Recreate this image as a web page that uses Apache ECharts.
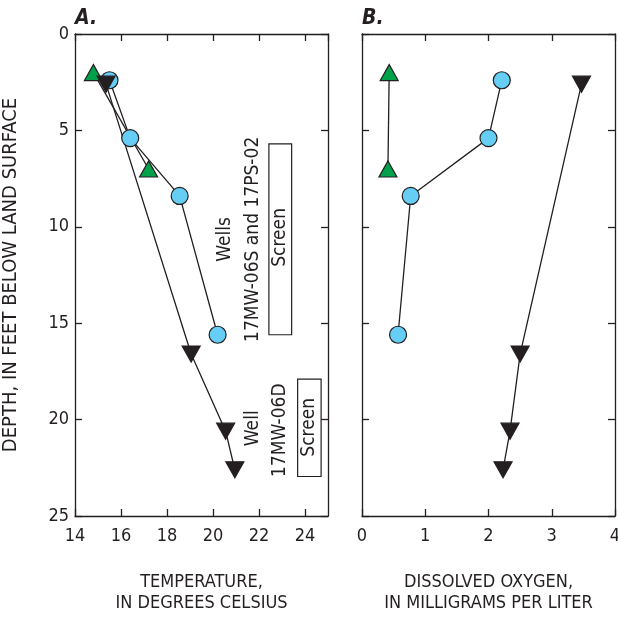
<!DOCTYPE html>
<html>
<head>
<meta charset="utf-8">
<script src="https://cdn.jsdelivr.net/npm/echarts@6/dist/echarts.min.js"></script>
<style>
  html, body { margin: 0; padding: 0; background: #fff; }
  #chart { width: 618px; height: 620px; }
</style>
</head>
<body>
<div id="chart"></div>
<script>
// depth values, in feet below land surface
const depth17PS = [2.0, 7.0];
const depth06S = [2.4, 5.4, 8.4, 15.6];
const depth06D = [2.6, 16.6, 20.6, 22.6];

// panel A: temperature, degrees Celsius
const temp17PS = [14.8, 17.2];
const temp06S = [15.5, 16.4, 18.55, 20.2];
const temp06D = [15.35, 19.05, 20.55, 20.95];

// panel B: dissolved oxygen, mg/L
const do17PS = [0.43, 0.41];
const do06S = [2.21, 2.0, 0.77, 0.57];
const do06D = [3.47, 2.5, 2.34, 2.23];

// screened intervals drawn in panel A: [x0, depthTop, x1, depthBottom]
const screenBoxes = [
    [22.43, 5.7, 23.42, 15.6],
    [23.68, 17.9, 24.7, 22.95],
];
// well annotations in panel A: [x, depth, text]
const wellLabels = [
    [20.52, 10.65, 'Wells'],
    [21.74, 10.65, '17MW-06S and 17PS-02'],
    [22.93, 10.55, 'Screen'],
    [21.74, 20.45, 'Well'],
    [22.9, 20.55, '17MW-06D'],
    [24.19, 20.4, 'Screen'],
];

const FONT = "'Liberation Sans Narrow', 'DejaVu Sans Condensed', sans-serif";
const INK = '#231f20';
const BLUE = '#66cdf4';
const GREEN = '#00a14b';

const zip = (xs, ys) => xs.map((x, i) => [x, ys[i]]);

const chart = echarts.init(document.getElementById('chart'));

const frameAxis = (extra) => Object.assign({
    type: 'value',
    axisLine: { show: true, onZero: false, lineStyle: { color: INK, width: 1.3 } },
    axisTick: { show: true, inside: true, length: 7, lineStyle: { color: INK, width: 1.3 } },
    axisLabel: { show: false },
    splitLine: { show: false },
}, extra);

const tickLabel = { show: true, color: INK, fontFamily: FONT, fontSize: 18, margin: 11 };
const axisName = { color: INK, fontFamily: FONT, fontSize: 18, lineHeight: 21 };

const lineSeries = (name, xi, yi, data, symbol, color, size, rotate) => ({
    name,
    type: 'line',
    xAxisIndex: xi,
    yAxisIndex: yi,
    data,
    symbol,
    symbolSize: size,
    symbolRotate: rotate || 0,
    showSymbol: true,
    lineStyle: { color: INK, width: 1.3 },
    itemStyle: { color, borderColor: INK, borderWidth: 1.2 },
    z: 3,
    animation: false,
});

chart.setOption({
    animation: false,
    title: [
        { text: 'A.', left: 70, top: 3, textStyle: { fontFamily: FONT, fontSize: 21, fontWeight: 'bold', fontStyle: 'italic', color: INK } },
        { text: 'B.', left: 357, top: 3, textStyle: { fontFamily: FONT, fontSize: 21, fontWeight: 'bold', fontStyle: 'italic', color: INK } },
    ],
    grid: [
        { left: 75, top: 34, width: 253, height: 482, outerBoundsMode: 'none' },
        { left: 362, top: 34, width: 253, height: 482, outerBoundsMode: 'none' },
    ],
    xAxis: [
        frameAxis({
            gridIndex: 0, position: 'bottom', min: 14, max: 25, interval: 2,
            axisLabel: Object.assign({}, tickLabel, { showMaxLabel: false }),
            name: 'TEMPERATURE,\nIN DEGREES CELSIUS', nameLocation: 'middle', nameGap: 56,
            nameTextStyle: axisName,
        }),
        frameAxis({ gridIndex: 0, position: 'top', min: 14, max: 25, interval: 2 }),
        frameAxis({
            gridIndex: 1, position: 'bottom', min: 0, max: 4, interval: 1,
            axisLabel: tickLabel,
            name: 'DISSOLVED OXYGEN,\nIN MILLIGRAMS PER LITER', nameLocation: 'middle', nameGap: 56,
            nameTextStyle: axisName,
        }),
        frameAxis({ gridIndex: 1, position: 'top', min: 0, max: 4, interval: 1 }),
    ],
    yAxis: [
        frameAxis({
            gridIndex: 0, position: 'left', inverse: true, min: 0, max: 25, interval: 5,
            axisLabel: Object.assign({}, tickLabel, { margin: 6 }),
            name: 'DEPTH, IN FEET BELOW LAND SURFACE', nameLocation: 'middle', nameGap: 54,
            nameRotate: 90, nameTextStyle: { color: INK, fontFamily: FONT, fontSize: 20 },
        }),
        frameAxis({ gridIndex: 0, position: 'right', inverse: true, min: 0, max: 25, interval: 5 }),
        frameAxis({ gridIndex: 1, position: 'left', inverse: true, min: 0, max: 25, interval: 5 }),
        frameAxis({ gridIndex: 1, position: 'right', inverse: true, min: 0, max: 25, interval: 5 }),
    ],
    series: [
        {
            type: 'custom',
            xAxisIndex: 0,
            yAxisIndex: 0,
            data: screenBoxes,
            renderItem: (params, api) => {
                const p0 = api.coord([api.value(0), api.value(1)]);
                const p1 = api.coord([api.value(2), api.value(3)]);
                return {
                    type: 'rect',
                    shape: { x: p0[0], y: p0[1], width: p1[0] - p0[0], height: p1[1] - p0[1] },
                    style: { fill: 'none', stroke: INK, lineWidth: 1.2 },
                };
            },
            silent: true,
            z: 1,
        },
        {
            type: 'scatter',
            xAxisIndex: 0,
            yAxisIndex: 0,
            symbolSize: 0,
            itemStyle: { opacity: 1 },
            data: wellLabels.map(d => ({ value: [d[0], d[1]], name: d[2] })),
            label: {
                show: true, position: 'inside', rotate: 90, formatter: p => p.name,
                color: INK, fontFamily: FONT, fontSize: 19,
            },
            silent: true,
            z: 2,
        },
        lineSeries('17MW-06S', 0, 0, zip(temp06S, depth06S), 'circle', BLUE, 17),
        lineSeries('17PS-02', 0, 0, zip(temp17PS, depth17PS), 'triangle', GREEN, [18, 16]),
        lineSeries('17MW-06D', 0, 0, zip(temp06D, depth06D), 'triangle', INK, [18, 16], 180),
        lineSeries('17MW-06S', 2, 2, zip(do06S, depth06S), 'circle', BLUE, 17),
        lineSeries('17PS-02', 2, 2, zip(do17PS, depth17PS), 'triangle', GREEN, [18, 16]),
        lineSeries('17MW-06D', 2, 2, zip(do06D, depth06D), 'triangle', INK, [18, 16], 180),
    ],
});
</script>
</body>
</html>
